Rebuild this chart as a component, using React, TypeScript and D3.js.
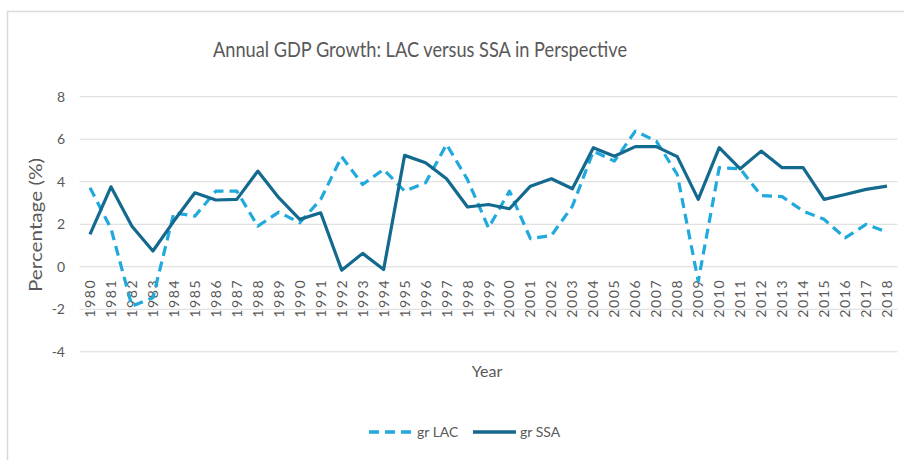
import React from "react";
import { scaleBand, scaleLinear, line } from "d3";

const years = [
  1980, 1981, 1982, 1983, 1984, 1985, 1986, 1987, 1988, 1989, 1990, 1991, 1992,
  1993, 1994, 1995, 1996, 1997, 1998, 1999, 2000, 2001, 2002, 2003, 2004, 2005,
  2006, 2007, 2008, 2009, 2010, 2011, 2012, 2013, 2014, 2015, 2016, 2017, 2018
];

const grLAC = [
  3.72, 1.8, -1.85, -1.46, 2.54, 2.38, 3.56, 3.56, 1.91, 2.57, 2.07, 3.17, 5.18,
  3.87, 4.58, 3.56, 3.95, 5.76, 4.1, 1.83, 3.56, 1.32, 1.47, 2.85, 5.44, 4.97,
  6.38, 5.91, 4.34, -0.68, 4.66, 4.61, 3.35, 3.3, 2.62, 2.23, 1.36, 1.99, 1.63
];

const grSSA = [
  1.52, 3.76, 1.91, 0.74, 2.15, 3.48, 3.14, 3.17, 4.5, 3.25, 2.23, 2.54, -0.16,
  0.63, -0.13, 5.24, 4.89, 4.14, 2.81, 2.93, 2.73, 3.79, 4.14, 3.67, 5.6, 5.2,
  5.65, 5.65, 5.18, 3.17, 5.6, 4.61, 5.44, 4.66, 4.66, 3.17, 3.4, 3.64, 3.79
];

const yTicks = [-4, -2, 0, 2, 4, 6, 8];

const W = 904;
const H = 460;
const GRID = "#d9d9d9";
const TEXT = "#595959";
const LAC_COLOR = "#1fa9dd";
const SSA_COLOR = "#14698f";
const FONT = "Lato, 'Open Sans', sans-serif";

export default function App() {
  const x = scaleBand<number>().domain(years).range([79.5, 897.5]);
  const y = scaleLinear().domain([-4, 8]).range([351.8, 96.7]);
  const cx = (yr: number) => x(yr)! + x.bandwidth() / 2;

  const lineFn = line<number>()
    .x((_, i) => cx(years[i]))
    .y((d) => y(d));

  return (
    <svg
      width={W}
      height={H}
      style={{ position: "absolute", left: 0, top: 0, background: "#fff" }}
      fontFamily={FONT}
    >
      <rect x={7.5} y={11.5} width={W} height={H} fill="#fff" stroke={GRID} strokeWidth={1.5} />

      {/* title, squeezed to the narrow width of the original font */}
      <text
        x={420}
        y={57}
        textAnchor="middle"
        fontSize={21}
        fill={TEXT}
        textLength={414}
        lengthAdjust="spacingAndGlyphs"
      >
        Annual GDP Growth: LAC versus SSA in Perspective
      </text>

      {yTicks.map((t) => (
        <g key={t}>
          <line x1={79.5} x2={897.5} y1={y(t)} y2={y(t)} stroke={GRID} strokeWidth={1} />
          <text x={65} y={y(t)} dy="0.35em" textAnchor="end" fontSize={14} fill={TEXT}>
            {t}
          </text>
        </g>
      ))}

      <text
        transform={`translate(42, 225) rotate(-90)`}
        textAnchor="middle"
        fontSize={17.5}
        fill={TEXT}
        textLength={134}
        lengthAdjust="spacingAndGlyphs"
      >
        Percentage (%)
      </text>

      {years.map((yr) => (
        <text
          key={yr}
          transform={`translate(${cx(yr) + 5}, ${y(0) + 12}) rotate(-90)`}
          textAnchor="end"
          fontSize={14}
          fill={TEXT}
          letterSpacing={1.6}
        >
          {yr}
        </text>
      ))}

      <text x={487} y={377} textAnchor="middle" fontSize={16} fill={TEXT}>
        Year
      </text>

      <path
        d={lineFn(grLAC)!}
        fill="none"
        stroke={LAC_COLOR}
        strokeWidth={3.2}
        strokeDasharray="10,6"
        strokeLinejoin="round"
      />
      <path
        d={lineFn(grSSA)!}
        fill="none"
        stroke={SSA_COLOR}
        strokeWidth={3.2}
        strokeLinejoin="round"
      />

      <g fontSize={14} fill={TEXT}>
        <line x1={369} x2={411} y1={432} y2={432} stroke={LAC_COLOR} strokeWidth={3.5} strokeDasharray="10,6" />
        <text x={417} y={432} dy="0.35em">gr LAC</text>
        <line x1={473} x2={516} y1={432} y2={432} stroke={SSA_COLOR} strokeWidth={3.5} />
        <text x={520} y={432} dy="0.35em">gr SSA</text>
      </g>
    </svg>
  );
}
